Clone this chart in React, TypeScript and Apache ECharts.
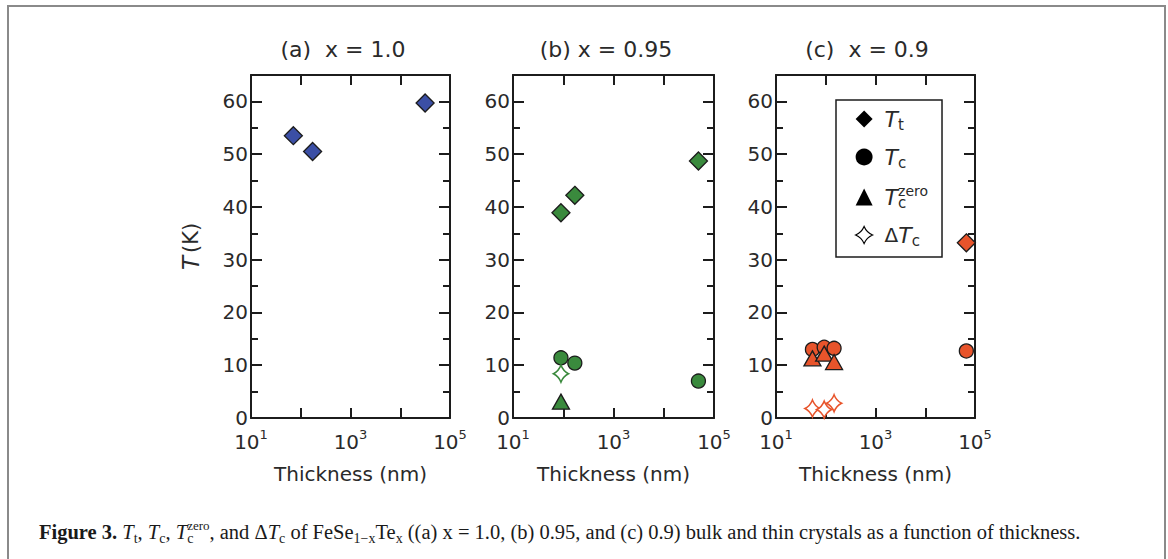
import React, { useEffect, useRef } from 'react';
import * as echarts from 'echarts';

// ---- data (thickness in nm, temperature in K) ----
const panelTitles = ['(a)  x = 1.0', '(b) x = 0.95', '(c)  x = 0.9'];
const panelColors = ['#3b4fa5', '#3a8a3d', '#e8542b'];
const seriesNames = ['Tt', 'Tc', 'Tczero', 'dTc'];

const aTt = [[71, 53.5], [173, 50.5], [31600, 59.7]];
const aTc: number[][] = [];
const aTcZero: number[][] = [];
const aDTc: number[][] = [];

const bTt = [[90, 38.9], [170, 42.2], [49000, 48.7]];
const bTc = [[90, 11.4], [170, 10.4], [49000, 7.0]];
const bTcZero = [[90, 3.1]];
const bDTc = [[90, 8.4]];

const cTt = [[67000, 33.2]];
const cTc = [[54, 13.0], [93, 13.4], [147, 13.2], [67000, 12.7]];
const cTcZero = [[54, 11.3], [93, 12.2], [147, 10.6]];
const cDTc = [[54, 1.8], [93, 1.6], [147, 2.8]];

const panelData = [
  [aTt, aTc, aTcZero, aDTc],
  [bTt, bTc, bTcZero, bDTc],
  [cTt, cTc, cTcZero, cDTc],
];

const yMin = 0;
const yMax = 65;
const xMin = 10;
const xMax = 100000;

const caption =
  '{b|Figure 3.} {i|T}{sb|t}, {i|T}{sb|c}, {i|T}{sb0|c}{sp|zero}, and \u0394{i|T}{sb|c} of FeSe{sb|1\u2212x}Te{sb|x} ((a) x = 1.0, (b) 0.95, and (c) 0.9) bulk and thin crystals as a function of thickness.';

// ---- layout ----
const grids = [
  { left: 251, top: 75, width: 199, height: 343 },
  { left: 513, top: 75, width: 201, height: 343 },
  { left: 776, top: 75, width: 199, height: 343 },
];
const titleX = [343, 606, 867];

const STAR = 'path://M10,0 Q13,7 20,10 Q13,13 10,20 Q7,13 0,10 Q7,7 10,0 Z';
const INK = '#1c1c1c';
const TXT = '#2a2a2a';
const FONT = 'DejaVu Sans';
const SERIF = 'Liberation Serif';

function xAxesFor(gi: number) {
  const line = { show: true, onZero: false, lineStyle: { color: INK, width: 2 } };
  const tick = { show: true, inside: true, length: 10, lineStyle: { color: INK, width: 2 } };
  return [
    {
      type: 'log', logBase: 10, min: xMin, max: xMax, gridIndex: gi, position: 'bottom',
      axisLine: line, axisTick: tick, splitLine: { show: false }, minorTick: { show: false },
      axisLabel: {
        margin: 10,
        formatter: (v: number) => {
          const e = Math.round(Math.log10(v));
          return e % 2 === 1 ? `{b|10}{s|${e}}` : '';
        },
        rich: {
          b: { fontSize: 20, fontFamily: FONT, color: TXT, lineHeight: 24, verticalAlign: 'bottom' },
          s: { fontSize: 13, fontFamily: FONT, color: TXT, lineHeight: 12, verticalAlign: 'top' },
        },
      },
      name: 'Thickness (nm)', nameLocation: 'middle', nameGap: 46,
      nameTextStyle: { fontSize: 20, fontFamily: FONT, color: TXT },
    },
    {
      type: 'log', logBase: 10, min: xMin, max: xMax, gridIndex: gi, position: 'top',
      axisLine: line, axisTick: tick, splitLine: { show: false }, minorTick: { show: false },
      axisLabel: { show: false },
    },
  ];
}

function yAxesFor(gi: number) {
  const line = { show: true, onZero: false, lineStyle: { color: INK, width: 2 } };
  const major = { show: true, inside: true, length: 11, lineStyle: { color: INK, width: 2 } };
  const minor = { show: true, inside: true, length: 7, lineStyle: { color: INK, width: 2 } };
  const base = { type: 'value', min: yMin, max: yMax, gridIndex: gi, splitLine: { show: false } };
  return [
    {
      ...base, interval: 10, position: 'left', axisLine: line, axisTick: major,
      axisLabel: {
        margin: 3, fontSize: 20, fontFamily: FONT, color: TXT,
        formatter: (v: number) => (v % 10 === 0 && v <= 60 ? String(v) : ''),
      },
      ...(gi === 0
        ? {
            name: '{i|T}{n|(K)}', nameLocation: 'middle', nameGap: 49,
            nameTextStyle: {
              rich: {
                i: { fontSize: 23, fontStyle: 'italic', fontFamily: FONT, color: TXT, padding: [0, 3, 0, 0] },
                n: { fontSize: 21, fontFamily: FONT, color: TXT },
              },
            },
          }
        : {}),
    },
    { ...base, interval: 10, position: 'right', axisLine: line, axisTick: major, axisLabel: { show: false } },
    { ...base, interval: 5, position: 'left', axisLine: { show: false }, axisTick: minor, axisLabel: { show: false } },
    { ...base, interval: 5, position: 'right', axisLine: { show: false }, axisTick: minor, axisLabel: { show: false } },
  ];
}

function seriesFor(gi: number) {
  const color = panelColors[gi];
  const [tt, tc, tz, dt] = panelData[gi];
  const common = { type: 'scatter', xAxisIndex: gi * 2, yAxisIndex: gi * 4 };
  return [
    { ...common, name: seriesNames[0], data: tt, symbol: 'diamond', symbolSize: 18,
      itemStyle: { color, borderColor: INK, borderWidth: 1.3, opacity: 1 } },
    { ...common, name: seriesNames[1], data: tc, symbol: 'circle', symbolSize: 14,
      itemStyle: { color, borderColor: INK, borderWidth: 1.3, opacity: 1 } },
    { ...common, name: seriesNames[2], data: tz, symbol: 'triangle', symbolSize: [17, 15],
      itemStyle: { color, borderColor: INK, borderWidth: 1.3, opacity: 1 } },
    { ...common, name: seriesNames[3], data: dt, symbol: STAR, symbolSize: [15, 17],
      itemStyle: { color: '#ffffff', borderColor: color, borderWidth: 1.6, opacity: 1 } },
  ];
}

const legendLabels: Record<string, string> = {
  Tt: '{i|T}{sb|t}',
  Tc: '{i|T}{sb|c}',
  Tczero: '{i|T}{sb0|c}{sp|zero}',
  dTc: '{n|\u0394}{i|T}{sb|c}',
};

export default function App() {
  const ref = useRef<HTMLDivElement>(null);
  useEffect(() => {
    if (!ref.current) return;
    const chart = echarts.init(ref.current, null, { renderer: 'svg' });
    const xAxis: any[] = [];
    const yAxis: any[] = [];
    const series: any[] = [];
    for (let gi = 0; gi < 3; gi++) {
      xAxis.push(...xAxesFor(gi));
      yAxis.push(...yAxesFor(gi));
      series.push(...seriesFor(gi));
    }
    chart.setOption({
      animation: false,
      backgroundColor: '#ffffff',
      grid: grids.map((g) => ({ ...g, containLabel: false })),
      xAxis,
      yAxis,
      series,
      legend: {
        orient: 'vertical',
        left: 836,
        top: 100,
        padding: [8, 14, 9, 19],
        itemWidth: 17,
        itemHeight: 17,
        itemGap: 14,
        selectedMode: false,
        borderColor: INK,
        borderWidth: 1.5,
        data: [
          { name: 'Tt', icon: 'diamond', itemStyle: { color: '#000', borderWidth: 0, opacity: 1 } },
          { name: 'Tc', icon: 'circle', itemStyle: { color: '#000', borderWidth: 0, opacity: 1 } },
          { name: 'Tczero', icon: 'triangle', itemStyle: { color: '#000', borderWidth: 0, opacity: 1 } },
          { name: 'dTc', icon: STAR, itemStyle: { color: '#fff', borderColor: '#000', borderWidth: 1.2, opacity: 1 } },
        ],
        formatter: (name: string) => legendLabels[name],
        textStyle: {
          fontFamily: FONT,
          color: TXT,
          padding: [0, 0, 0, 7],
          rich: {
            i: { fontSize: 22, fontStyle: 'italic', fontFamily: FONT, color: TXT, lineHeight: 26 },
            n: { fontSize: 20, fontFamily: FONT, color: TXT, lineHeight: 26 },
            sb: { fontSize: 15, fontFamily: FONT, color: TXT, lineHeight: 14, verticalAlign: 'bottom' },
            sb0: { fontSize: 15, fontFamily: FONT, color: TXT, lineHeight: 14, verticalAlign: 'bottom', width: 0 },
            sp: { fontSize: 14, fontFamily: FONT, color: TXT, lineHeight: 8, verticalAlign: 'top' },
          },
        },
      },
      graphic: [
        {
          type: 'rect', silent: true, z: -10,
          shape: { x: 8, y: 6, width: 1157, height: 620 },
          style: { fill: 'none', stroke: '#8a8a8a', lineWidth: 2 },
        },
        ...panelTitles.map((t, i) => ({
          type: 'text', silent: true,
          x: titleX[i], y: 49,
          style: { text: t, fontSize: 22, fontFamily: FONT, fill: TXT, align: 'center', verticalAlign: 'middle' },
        })),
        {
          type: 'text', silent: true, x: 39, y: 532,
          style: {
            text: caption,
            fontSize: 20.5,
            fontFamily: SERIF,
            fill: '#1a1a1a',
            verticalAlign: 'middle',
            rich: {
              b: { fontSize: 20.5, fontWeight: 'bold', fontFamily: SERIF, fill: '#1a1a1a', lineHeight: 26 },
              i: { fontSize: 20.5, fontStyle: 'italic', fontFamily: SERIF, fill: '#1a1a1a', lineHeight: 26 },
              sb: { fontSize: 14, fontFamily: SERIF, fill: '#1a1a1a', lineHeight: 12, verticalAlign: 'bottom' },
              sb0: { fontSize: 14, fontFamily: SERIF, fill: '#1a1a1a', lineHeight: 12, verticalAlign: 'bottom', width: 0 },
              sp: { fontSize: 13, fontFamily: SERIF, fill: '#1a1a1a', lineHeight: 8, verticalAlign: 'top' },
            },
          },
        },
      ],
    });
    return () => chart.dispose();
  }, []);
  return (
    <div
      ref={ref}
      style={{ position: 'fixed', left: 0, top: 0, width: 1168, height: 559, background: '#fff' }}
    />
  );
}
